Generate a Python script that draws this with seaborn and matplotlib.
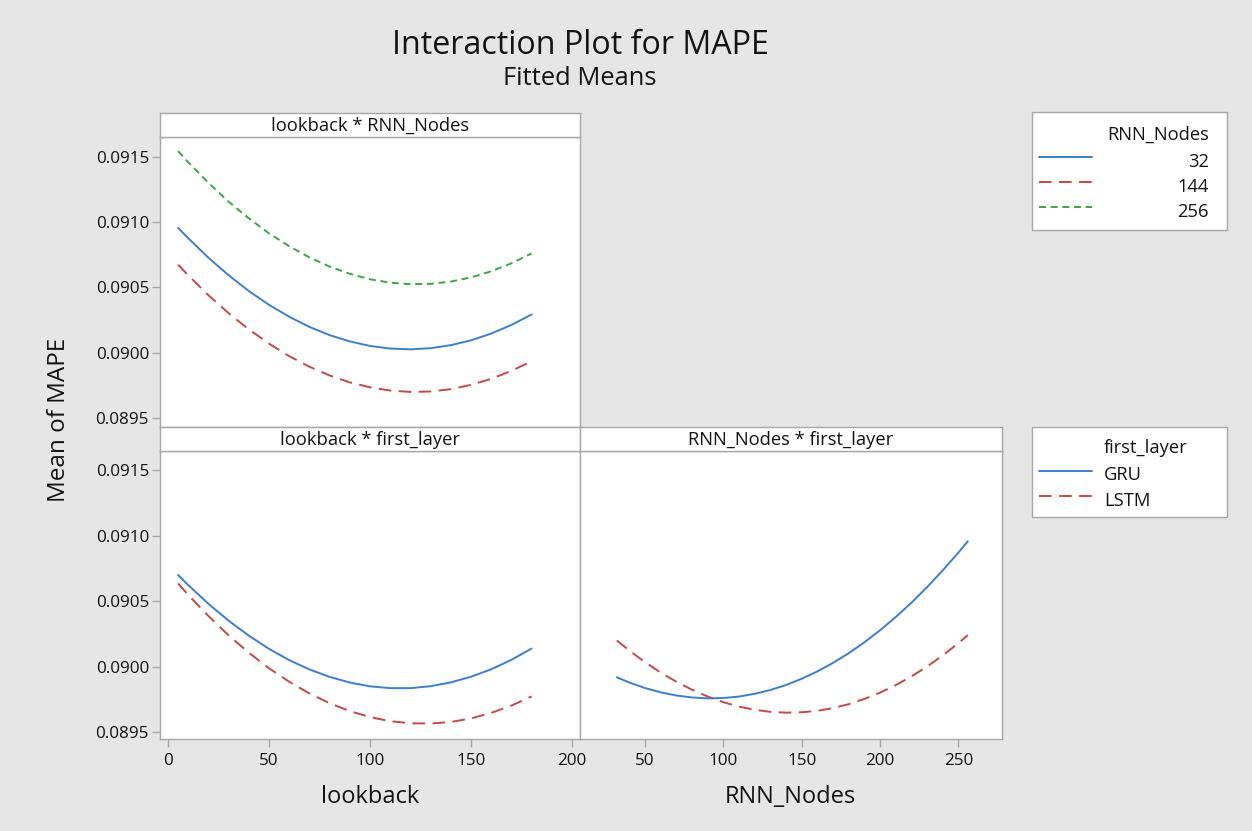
import matplotlib
matplotlib.use("Agg")
import matplotlib.pyplot as plt
from matplotlib.lines import Line2D
from matplotlib.patches import Rectangle
import pandas as pd
import seaborn as sns

# ---------------- data ----------------
lookback = [5, 10, 20, 30, 40, 50, 60, 70, 80, 90, 100, 110, 120, 130, 140, 150, 160, 170, 180]
mape_lb_nodes_32 = [0.090957, 0.090878, 0.090728, 0.090594, 0.090473, 0.090367, 0.090276,
                    0.090198, 0.090135, 0.090087, 0.090052, 0.090032, 0.090026, 0.090035,
                    0.090058, 0.090095, 0.090147, 0.090213, 0.090293]
mape_lb_nodes_144 = [0.090675, 0.090593, 0.090441, 0.090303, 0.090179, 0.090070, 0.089974,
                     0.089893, 0.089826, 0.089773, 0.089735, 0.089710, 0.089700, 0.089703,
                     0.089721, 0.089754, 0.089800, 0.089861, 0.089935]
mape_lb_nodes_256 = [0.091545, 0.091460, 0.091302, 0.091158, 0.091030, 0.090915, 0.090816,
                     0.090731, 0.090660, 0.090605, 0.090563, 0.090537, 0.090525, 0.090528,
                     0.090545, 0.090577, 0.090624, 0.090685, 0.090761]
mape_lb_gru = [0.090699, 0.090622, 0.090479, 0.090350, 0.090236, 0.090135, 0.090049,
               0.089978, 0.089921, 0.089878, 0.089849, 0.089835, 0.089835, 0.089850,
               0.089879, 0.089922, 0.089979, 0.090051, 0.090137]
mape_lb_lstm = [0.090634, 0.090547, 0.090386, 0.090238, 0.090106, 0.089987, 0.089884,
                0.089795, 0.089720, 0.089660, 0.089614, 0.089583, 0.089567, 0.089565,
                0.089577, 0.089604, 0.089646, 0.089702, 0.089772]
rnn_nodes = [32, 40, 50, 60, 70, 80, 90, 100, 110, 120, 130, 140, 150, 160, 170, 180,
             190, 200, 210, 220, 230, 240, 250, 256]
mape_nodes_gru = [0.089918, 0.089878, 0.089836, 0.089803, 0.089779, 0.089764, 0.089757,
                  0.089760, 0.089771, 0.089792, 0.089821, 0.089859, 0.089907, 0.089963,
                  0.090028, 0.090102, 0.090185, 0.090277, 0.090378, 0.090487, 0.090606,
                  0.090734, 0.090870, 0.090956]
mape_nodes_lstm = [0.090199, 0.090122, 0.090033, 0.089954, 0.089884, 0.089823, 0.089771,
                   0.089728, 0.089694, 0.089670, 0.089654, 0.089648, 0.089651, 0.089662,
                   0.089683, 0.089713, 0.089753, 0.089801, 0.089858, 0.089925, 0.090000,
                   0.090085, 0.090179, 0.090240]

node_levels = ["32", "144", "256"]
layer_levels = ["GRU", "LSTM"]
lookback_ticks = [0, 50, 100, 150, 200]
node_ticks = [50, 100, 150, 200, 250]
mape_ticks = [0.0895, 0.0900, 0.0905, 0.0910, 0.0915]

title = "Interaction Plot for MAPE"
subtitle = "Fitted Means"
strip_labels = ["lookback * RNN_Nodes", "lookback * first_layer", "RNN_Nodes * first_layer"]

# ---------------- tables ----------------
df_top = pd.concat([
    pd.DataFrame({"lookback": lookback, "MAPE": vals, "RNN_Nodes": lvl})
    for lvl, vals in zip(node_levels, [mape_lb_nodes_32, mape_lb_nodes_144, mape_lb_nodes_256])
], ignore_index=True)
df_bl = pd.concat([
    pd.DataFrame({"lookback": lookback, "MAPE": vals, "first_layer": lvl})
    for lvl, vals in zip(layer_levels, [mape_lb_gru, mape_lb_lstm])
], ignore_index=True)
df_br = pd.concat([
    pd.DataFrame({"RNN_Nodes": rnn_nodes, "MAPE": vals, "first_layer": lvl})
    for lvl, vals in zip(layer_levels, [mape_nodes_gru, mape_nodes_lstm])
], ignore_index=True)

# ---------------- style ----------------
BLUE, RED, GREEN = "#3f7fc8", "#c24a4a", "#3fa349"
EDGE = "#a8a8a8"
TXT = "#141414"
BG = "#e6e6e6"
LW = 1.4
DASH_RED = (6.5, 3.8)
DASH_GREEN = (3.6, 2.4)
pal_nodes = {"32": BLUE, "144": RED, "256": GREEN}
dash_nodes = {"32": "", "144": DASH_RED, "256": DASH_GREEN}
pal_layer = {"GRU": BLUE, "LSTM": RED}
dash_layer = {"GRU": "", "LSTM": DASH_RED}

sns.set_style("white")
plt.rcParams["font.family"] = ["Open Sans", "DejaVu Sans"]

W, H = 1252, 831
fig = plt.figure(figsize=(W / 100, H / 100), dpi=100)
fig.patch.set_facecolor(BG)


def rect(x0, y0, x1, y1):
    return [x0 / W, 1 - y1 / H, (x1 - x0) / W, (y1 - y0) / H]


TICK_FS = 12.3
STRIP_FS = 13.2


def style_panel(ax, xlim, ylim):
    ax.set_facecolor("white")
    for sp in ax.spines.values():
        sp.set_visible(True)
        sp.set_color(EDGE)
        sp.set_linewidth(1)
    ax.set_xlim(xlim)
    ax.set_ylim(ylim)
    ax.set_xlabel("")
    ax.set_ylabel("")
    ax.tick_params(colors=EDGE, labelcolor=TXT, length=6, width=1,
                   labelsize=TICK_FS, pad=2)


def strip(x0, y0, x1, y1, label):
    s = fig.add_axes(rect(x0, y0, x1, y1))
    s.set_facecolor("white")
    s.set_xticks([])
    s.set_yticks([])
    for sp in s.spines.values():
        sp.set_visible(True)
        sp.set_color(EDGE)
        sp.set_linewidth(1)
    s.text(0.5, 0.45, label, ha="center", va="center", fontsize=STRIP_FS,
           color=TXT, transform=s.transAxes)


ylim_top = (0.089431, 0.091653)
ylim_bot = (0.089447, 0.091645)
xlim_lb = (-3.96, 203.96)
xlim_nodes = (8.5, 277.8)

# top-left panel
ax_tl = fig.add_axes(rect(160, 137, 580, 427))
sns.lineplot(data=df_top, x="lookback", y="MAPE", hue="RNN_Nodes", style="RNN_Nodes",
             hue_order=node_levels, style_order=node_levels, palette=pal_nodes,
             dashes=dash_nodes, estimator=None, linewidth=LW, legend=False, ax=ax_tl)
style_panel(ax_tl, xlim_lb, ylim_top)
ax_tl.set_yticks(mape_ticks)
ax_tl.set_yticklabels([f"{v:.4f}" for v in mape_ticks])
ax_tl.set_xticks([])
ax_tl.tick_params(axis="y", left=True)
strip(160, 113, 580, 137, strip_labels[0])

# bottom-left panel
ax_bl = fig.add_axes(rect(160, 451, 580, 739))
sns.lineplot(data=df_bl, x="lookback", y="MAPE", hue="first_layer", style="first_layer",
             hue_order=layer_levels, style_order=layer_levels, palette=pal_layer,
             dashes=dash_layer, estimator=None, linewidth=LW, legend=False, ax=ax_bl)
style_panel(ax_bl, xlim_lb, ylim_bot)
ax_bl.set_yticks(mape_ticks)
ax_bl.set_yticklabels([f"{v:.4f}" for v in mape_ticks])
ax_bl.set_xticks(lookback_ticks)
ax_bl.set_xticklabels([str(v) for v in lookback_ticks])
ax_bl.tick_params(axis="both", left=True, bottom=True)
ax_bl.tick_params(axis="x", pad=4)
strip(160, 427, 580, 451, strip_labels[1])

# bottom-right panel
ax_br = fig.add_axes(rect(580, 451, 1002, 739))
sns.lineplot(data=df_br, x="RNN_Nodes", y="MAPE", hue="first_layer", style="first_layer",
             hue_order=layer_levels, style_order=layer_levels, palette=pal_layer,
             dashes=dash_layer, estimator=None, linewidth=LW, legend=False, ax=ax_br)
style_panel(ax_br, xlim_nodes, ylim_bot)
ax_br.set_yticks([])
ax_br.set_xticks(node_ticks)
ax_br.set_xticklabels([str(v) for v in node_ticks])
ax_br.tick_params(axis="x", bottom=True, pad=4)
strip(580, 427, 1002, 451, strip_labels[2])

# titles and axis labels
fig.text(580 / W, 1 - 54 / H, title, ha="center", va="baseline", fontsize=23.2, color=TXT)
fig.text(580 / W, 1 - 85 / H, subtitle, ha="center", va="baseline", fontsize=18.4, color=TXT)
fig.text(71 / W, 1 - 420 / H, "Mean of MAPE", rotation=90, ha="right", va="center",
         fontsize=17.5, color=TXT)
fig.text(370 / W, 1 - 803 / H, "lookback", ha="center", va="baseline", fontsize=17, color=TXT)
fig.text(790 / W, 1 - 803 / H, "RNN_Nodes", ha="center", va="baseline", fontsize=17, color=TXT)

# legends
LEG_FS = 13.2
fs_px = LEG_FS * 100 / 72


def proxy(color, dash):
    if dash == "":
        return Line2D([], [], color=color, lw=LW, linestyle="-")
    return Line2D([], [], color=color, lw=LW, linestyle=(0, dash))


blank = Line2D([], [], color="none", lw=0)
h1 = [blank] + [proxy(pal_nodes[l], dash_nodes[l]) for l in node_levels]
h2 = [blank] + [proxy(pal_layer[l], dash_layer[l]) for l in layer_levels]

for (x0, y0, x1, y1) in [(1032, 112, 1227, 230), (1032, 427, 1227, 517)]:
    fig.add_artist(Rectangle((x0 / W, 1 - y1 / H), (x1 - x0) / W, (y1 - y0) / H,
                             transform=fig.transFigure, facecolor="white",
                             edgecolor=EDGE, lw=1, zorder=1))

renderer = fig.canvas.get_renderer()


def line_center(artist):
    bb = artist.get_window_extent(renderer)
    return (bb.x0 + bb.x1) / 2, (bb.y0 + bb.y1) / 2


def build_legend(handles, labels, line_cx, line1_y, pitch, text_x, align, baselines):
    kw = dict(loc="upper left", frameon=False, borderpad=0.5, borderaxespad=0,
              handlelength=53 / fs_px, handletextpad=0.7, fontsize=LEG_FS)
    anchor = [1032 / W, 1 - 110 / H]
    leg = fig.legend(handles, labels, bbox_to_anchor=tuple(anchor), labelspacing=0.5, **kw)
    fig.canvas.draw()
    ya = line_center(leg.legend_handles[1])[1]
    yb = line_center(leg.legend_handles[2])[1]
    rowh = (ya - yb) - 0.5 * fs_px
    ls = (pitch - rowh) / fs_px
    leg.remove()
    leg = fig.legend(handles, labels, bbox_to_anchor=tuple(anchor), labelspacing=ls, **kw)
    fig.canvas.draw()
    cx, cy = line_center(leg.legend_handles[1])
    anchor[0] += (line_cx - cx) / W
    anchor[1] += ((H - line1_y) - cy) / H
    leg.set_bbox_to_anchor(tuple(anchor))
    leg.set_zorder(5)
    fig.canvas.draw()
    for t, base in zip(leg.get_texts(), baselines):
        t.set_color(TXT)
        bb = t.get_window_extent(renderer)
        d = renderer.get_text_width_height_descent("lp", t.get_fontproperties(), ismath=False)[2]
        cur_base = bb.y0 + d
        dx = (text_x - bb.x1) if align == "right" else (text_x - bb.x0)
        dy = (H - base) - cur_base
        t.set_position((dx, dy))
    return leg


leg1 = build_legend(h1, ["RNN_Nodes"] + node_levels, 1065.5, 156.7, 25.2,
                    1209, "right", [140, 166.7, 192, 216.7])
leg2 = build_legend(h2, ["first_layer"] + layer_levels, 1065.5, 471, 25.0,
                    1104, "left", [453, 480, 505.7])

fig.savefig("out.png", dpi=100, facecolor=BG)
